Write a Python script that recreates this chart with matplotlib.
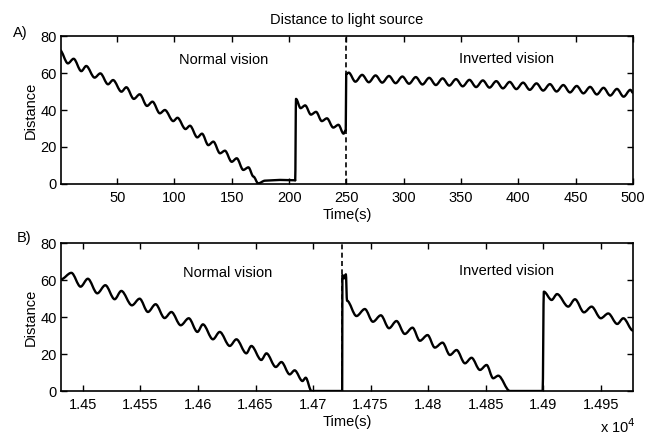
import numpy as np
import matplotlib.pyplot as plt
from matplotlib.path import Path
from matplotlib.patches import PathPatch

plt.rcParams['font.family'] = ['Liberation Sans', 'DejaVu Sans']

# ---- panel A: first 500 s (peaks / troughs) ----
a_normal_t = [0, 7, 12, 18.7, 23, 30.3, 35.3, 42, 46.4, 53.7, 58, 64.5, 69.7, 76,
              80.8, 87.2, 91.6, 98.9, 102.6, 109.6, 113.5, 119.9, 124, 129.5,
              133.9, 139.7, 144, 149.9, 154.3, 160, 164.5, 168.9, 173, 179, 192, 205.3]
a_normal_d = [72.4, 65.2, 67.7, 61, 63.8, 57.5, 59.8, 53.9, 56.2, 49.9, 52.3, 46,
              48.5, 42.2, 44.5, 38.2, 40, 34, 35.8, 29.7, 31.5, 25.2, 27.2, 21,
              22.9, 16.6, 18, 12, 13.9, 7.6, 9, 4, 0.3, 1.8, 2.2, 2]

a_mid_t = [205.3, 206, 210, 214, 219, 223.5, 228.5, 233, 238.5, 243, 247.5, 249.4]
a_mid_d = [2, 46, 41, 42.5, 37.5, 39, 34, 35.5, 30.5, 32, 27.2, 29]

a_inv_t = [249.4, 249.8, 252, 257.8, 263.7, 269.5, 275.4, 281.2, 287.1, 292.9, 298.8,
           304.6, 310.5, 316.3, 322.2, 328, 333.9, 339.7, 345.6, 351.4, 357.3,
           363.1, 369, 374.8, 380.7, 386.5, 392.4, 398.2, 404.1, 409.9, 415.8,
           421.6, 427.5, 433.3, 439.2, 445, 450.9, 456.7, 462.6, 468.4, 474.3,
           480.1, 486, 491.8, 497.7, 500]
a_inv_d = [29, 59.5, 60.2, 55.3, 59, 55, 58.7, 54.8, 58.4, 54.5, 58.1, 54.2, 57.8, 53.8,
           57.4, 53.5, 57.1, 53.2, 56.7, 52.8, 56.3, 52.4, 56, 52.1, 55.6, 51.7,
           55.2, 51.3, 54.8, 50.9, 54.4, 50.5, 54, 50, 53.5, 49.5, 53, 49, 52.5,
           48.4, 52, 47.8, 51.4, 47.2, 50.9, 49.3]

# ---- panel B: later window (seconds) ----
b_normal_t = [14481, 14490, 14498, 14504.3, 14512.5, 14519.5, 14527.6, 14533.4,
              14542.6, 14549.3, 14556.5, 14563.2, 14571, 14576.9, 14585, 14592,
              14599.5, 14604.3, 14613, 14618.9, 14627.6, 14633.4, 14642, 14646.4,
              14655, 14659.5, 14667.6, 14672.5, 14679.7, 14684, 14690.8, 14693.6,
              14698.6, 14725.3]
b_normal_d = [60.5, 64, 56.5, 60.8, 52.9, 57.3, 49.7, 54.2, 46.4, 50, 42.8, 47,
              39.5, 42.8, 35.6, 39.4, 32, 36.1, 28, 32, 24.4, 28, 20.4, 24.4, 16.8,
              20.4, 13, 15.7, 9, 11.2, 5.4, 7.2, 0, 0]

b_inv_t = [14725.3, 14725.5, 14727, 14728.5, 14729.5, 14737.7, 14745, 14752, 14758.9,
           14766, 14772.5, 14779.7, 14786.4, 14792.8, 14799.5, 14805.8, 14812.5,
           14818.9, 14824.7, 14832, 14837.7, 14845, 14850.8, 14856.5, 14860.9,
           14871, 14899.5, 14900.5, 14907.3, 14912, 14921.7, 14927.6, 14935.4,
           14942, 14950, 14956.5, 14964.3, 14969.6, 14978]
b_inv_d = [0, 62.8, 61, 63.2, 48.9, 40.6, 44.4, 37.5, 41, 34, 37.9, 30.9, 34.3, 27.2,
           30.3, 23.5, 26.2, 19.5, 22.2, 15, 18, 11.4, 14.1, 6.9, 8.3, 0, 0, 53.8,
           49.3, 52.5, 45.7, 49.7, 42.6, 45.7, 39.4, 42, 36.3, 39.4, 32.7]

switch_a = 249.6
switch_b = 14724.8

b_ticks = [14500, 14550, 14600, 14650, 14700, 14750, 14800, 14850, 14900, 14950]
b_labels = ['1.45', '1.455', '1.46', '1.465', '1.47', '1.475', '1.48', '1.485', '1.49', '1.495']


def wavy(ax, t, d, lw=1.7):
    # join the read-off extrema with S-shaped cubic segments (flat at each extremum)
    verts = [(t[0], d[0])]
    codes = [Path.MOVETO]
    for i in range(len(t) - 1):
        h = (t[i + 1] - t[i]) / 3
        verts += [(t[i] + h, d[i]), (t[i + 1] - h, d[i + 1]), (t[i + 1], d[i + 1])]
        codes += [Path.CURVE4] * 3
    ax.add_patch(PathPatch(Path(verts, codes), fill=False, ec='k', lw=lw,
                           capstyle='round', joinstyle='round'))


fs = 10.5
fig = plt.figure(figsize=(6.54, 4.36), dpi=100)
ax1 = fig.add_axes([0.0933, 0.578, 0.8746, 0.3394])
ax2 = fig.add_axes([0.0933, 0.1032, 0.8746, 0.3388])

for ax in (ax1, ax2):
    ax.set_ylim(0, 80)
    ax.set_yticks([0, 20, 40, 60, 80])
    ax.tick_params(direction='in', top=True, right=True, length=4, width=1,
                   labelsize=fs, pad=3)
    ax.tick_params(axis='x', pad=5)
    for sp in ax.spines.values():
        sp.set_linewidth(1.2)
    ax.set_ylabel('Distance', fontsize=fs, labelpad=2)
    ax.set_xlabel('Time(s)', fontsize=fs, labelpad=2)

# panel A
wavy(ax1, a_normal_t, a_normal_d)
wavy(ax1, a_mid_t, a_mid_d)
wavy(ax1, a_inv_t, a_inv_d)
ax1.axvline(switch_a, color='k', ls=(0, (3, 2)), lw=1.2)
ax1.set_xlim(1, 500)
ax1.set_xticks(range(50, 501, 50))
ax1.text(143, 67, 'Normal vision', ha='center', va='center', fontsize=fs)
ax1.text(390, 67.5, 'Inverted vision', ha='center', va='center', fontsize=fs)
ax1.set_title('Distance to light source', fontsize=fs, pad=9)
fig.text(0.02, 0.925, 'A)', fontsize=fs, va='center')

# panel B
wavy(ax2, b_normal_t, b_normal_d)
wavy(ax2, b_inv_t, b_inv_d)
ax2.axvline(switch_b, color='k', ls=(0, (3, 2)), lw=1.2)
ax2.set_xlim(14481, 14978)
ax2.set_xticks(b_ticks)
ax2.set_xticklabels(b_labels)
ax2.text(14626, 64, 'Normal vision', ha='center', va='center', fontsize=fs)
ax2.text(14868, 65, 'Inverted vision', ha='center', va='center', fontsize=fs)
fig.text(0.026, 0.455, 'B)', fontsize=fs, va='center')
fig.text(0.918, 0.022, 'x 10$^4$', fontsize=fs, va='center')

fig.savefig('out.png', dpi=100)
